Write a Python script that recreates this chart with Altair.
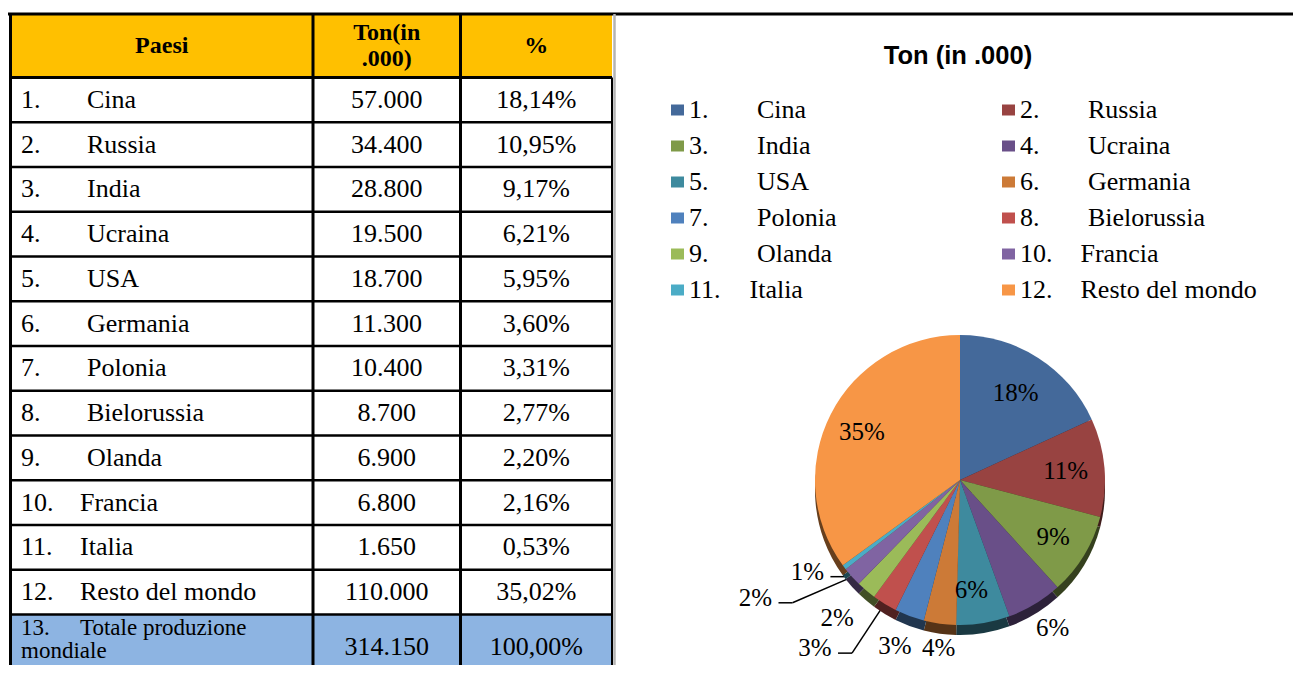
import math
import altair as alt
import pandas as pd

# ---------------- data ----------------
countries = ["Cina", "Russia", "India", "Ucraina", "USA", "Germania", "Polonia",
             "Bielorussia", "Olanda", "Francia", "Italia", "Resto del mondo"]
tons = [57000, 34400, 28800, 19500, 18700, 11300, 10400, 8700, 6900, 6800, 1650, 110000]
shares = [18.14, 10.95, 9.17, 6.21, 5.95, 3.60, 3.31, 2.77, 2.20, 2.16, 0.53, 35.02]
total_name = ["Totale produzione", "mondiale"]
total_tons = 314150
total_share = 100.00
header = ["Paesi", "Ton(in\n.000)", "%"]
title = "Ton (in .000)"
colors = ["#44699A", "#984341", "#7F9A48", "#694F88", "#3E8A9E", "#CC7A37",
          "#4F81BD", "#C0504D", "#9BBB59", "#8064A2", "#4BACC6", "#F79646"]

# ---------------- style / layout (page pixels) ----------------
OFF = 8
W, H = 1285, 657
SERIF = "Liberation Serif"
SANS = "Liberation Sans"
TL, C1, C2, TR = 10.5, 313, 460.5, 612
HT, HB, RH = 14, 77.5, 44.75
PCX, PCY, PR, DEPTH = 960, 480, 145, 10
label_r = [103, 106, 109, 175, 111, 169, 178, 222, 185, 236, 178, 109]
label_da = [0, 0, 0, -0.9, 3.3, -0.7, 1, 9.4, 1.25, 11.9, 6, -1]
leaders = [7, 9, 10]


def p(v):
    return v - OFF


def it_num(v):
    return f"{v:,}".replace(",", ".")


def it_pct(v):
    return f"{v:.2f}".replace(".", ",") + "%"


def shade(hx, f=0.42):
    r, g, b = int(hx[1:3], 16), int(hx[3:5], 16), int(hx[5:7], 16)
    return "#%02x%02x%02x" % (int(r * f), int(g * f), int(b * f))


def XY(xf="x", yf="y"):
    return dict(x=alt.X(f"{xf}:Q", scale=None, axis=None),
                y=alt.Y(f"{yf}:Q", scale=None, axis=None))


# ---------------- table fills ----------------
total_top = HB + RH * 12
fills = pd.DataFrame([
    dict(x=p(TL), x2=p(TR), y=p(HT), y2=p(HB), c="#FFC000"),
    dict(x=p(TL), x2=p(TR), y=p(total_top), y2=p(700), c="#8DB4E2"),
])
fill_layer = alt.Chart(fills).mark_rect().encode(
    **XY(), x2="x2:Q", y2="y2:Q", color=alt.Color("c:N", scale=None))

# ---------------- table lines ----------------
segs = []
segs.append(dict(x=p(OFF), x2=p(1301), y=p(HT), y2=p(HT), w=3, c="#000000"))
segs.append(dict(x=p(TL), x2=p(TR), y=p(HB), y2=p(HB), w=3, c="#000000"))
for k in range(1, 13):
    yy = HB + RH * k
    segs.append(dict(x=p(TL), x2=p(TR), y=p(yy), y2=p(yy), w=2.5, c="#000000"))
for xx in (TL, C1, C2):
    segs.append(dict(x=p(xx), x2=p(xx), y=p(HT), y2=p(700), w=3, c="#000000"))
segs.append(dict(x=p(TR), x2=p(TR), y=p(HB), y2=p(700), w=2, c="#000000"))
segs.append(dict(x=p(TR + 2.5), x2=p(TR + 2.5), y=p(HT), y2=p(700), w=2.5, c="#B4B4B4"))

# ---------------- pie geometry from data ----------------
tot = sum(tons)
mids, cum = [], 0
for v in tons:
    mids.append((cum + v / 2) / tot * 360)
    cum += v


def polar(a_deg, r):
    a = math.radians(a_deg)
    return PCX + r * math.sin(a), PCY - r * math.cos(a)


plabels = []
for i, s in enumerate(shares):
    lx, ly = polar(mids[i] + label_da[i], label_r[i])
    plabels.append(dict(x=p(lx), y=p(ly), t=f"{round(s)}%"))
    if i in leaders:
        sx, sy = polar(mids[i], PR + 1)
        ex, ey = lx + 23, ly + 5
        bx = ex + 14
        segs.append(dict(x=p(sx), x2=p(bx), y=p(sy), y2=p(ey), w=1.5, c="#000000"))
        segs.append(dict(x=p(bx), x2=p(ex), y=p(ey), y2=p(ey), w=1.5, c="#000000"))

rules = pd.DataFrame(segs)
rule_layer = alt.Chart(rules).mark_rule().encode(
    **XY(), x2="x2:Q", y2="y2:Q",
    strokeWidth=alt.StrokeWidth("w:Q", scale=None),
    color=alt.Color("c:N", scale=None))

# ---------------- table texts ----------------
left_rows, center_rows, total_rows = [], [], []
for i, name in enumerate(countries):
    yc = HB + RH * (i + 0.5)
    num = f"{i + 1}."
    left_rows.append(dict(x=p(21), y=p(yc), t=num))
    left_rows.append(dict(x=p(87 if i < 9 else 80), y=p(yc), t=name))
    center_rows.append(dict(x=p((C1 + C2) / 2), y=p(yc), t=it_num(tons[i])))
    center_rows.append(dict(x=p((C2 + TR) / 2), y=p(yc), t=it_pct(shares[i])))
total_rows.append(dict(x=p(21), y=p(total_top + 13), t="13."))
total_rows.append(dict(x=p(80), y=p(total_top + 13), t=total_name[0]))
total_rows.append(dict(x=p(21), y=p(total_top + 36), t=total_name[1]))
center_rows.append(dict(x=p((C1 + C2) / 2), y=p(total_top + 32), t=it_num(total_tons)))
center_rows.append(dict(x=p((C2 + TR) / 2), y=p(total_top + 32), t=it_pct(total_share)))

head_rows = []
col_centers = [(TL + C1) / 2, (C1 + C2) / 2, (C2 + TR) / 2]
hmid = (HT + HB) / 2
for xc, h in zip(col_centers, header):
    lines = h.split("\n")
    n = len(lines)
    for j, ln in enumerate(lines):
        head_rows.append(dict(x=p(xc), y=p(hmid + (j - (n - 1) / 2) * 26), t=ln))

left_text = alt.Chart(pd.DataFrame(left_rows)).mark_text(
    align="left", baseline="middle", font=SERIF, fontSize=26, color="#000000"
).encode(**XY(), text="t:N")
total_text = alt.Chart(pd.DataFrame(total_rows)).mark_text(
    align="left", baseline="middle", font=SERIF, fontSize=23, color="#000000"
).encode(**XY(), text="t:N")
center_text = alt.Chart(pd.DataFrame(center_rows)).mark_text(
    align="center", baseline="middle", font=SERIF, fontSize=26, color="#000000"
).encode(**XY(), text="t:N")
head_text = alt.Chart(pd.DataFrame(head_rows)).mark_text(
    align="center", baseline="middle", font=SERIF, fontSize=24, fontWeight="bold", color="#000000"
).encode(**XY(), text="t:N")

# ---------------- legend ----------------
leg_sq, leg_txt = [], []
for i, name in enumerate(countries):
    col, row = i % 2, i // 2
    yc = 110 + 36 * row
    sx = [671, 1002][col]
    leg_sq.append(dict(x=p(sx), x2=p(sx + 13), y=p(yc - 5.5), y2=p(yc + 5.5), c=colors[i]))
    leg_txt.append(dict(x=p([689, 1020][col]), y=p(yc), t=f"{i + 1}."))
    leg_txt.append(dict(x=p([757, 1088][col] - (7.5 if i >= 9 else 0)), y=p(yc), t=name))
leg_sq_layer = alt.Chart(pd.DataFrame(leg_sq)).mark_rect().encode(
    **XY(), x2="x2:Q", y2="y2:Q", color=alt.Color("c:N", scale=None))
leg_txt_layer = alt.Chart(pd.DataFrame(leg_txt)).mark_text(
    align="left", baseline="middle", font=SERIF, fontSize=26, color="#000000"
).encode(**XY(), text="t:N")

title_layer = alt.Chart(pd.DataFrame([dict(x=p(958), y=p(56), t=title)])).mark_text(
    align="center", baseline="middle", font=SANS, fontSize=25.5, fontWeight="bold", color="#000000"
).encode(**XY(), text="t:N")

# ---------------- pie ----------------
pie_df = pd.DataFrame({
    "country": countries,
    "value": tons,
    "order": list(range(len(countries))),
    "c": colors,
    "s": [shade(c) for c in colors],
})
pie_shadow = alt.Chart(pie_df).mark_arc(radius=PR).encode(
    theta=alt.Theta("value:Q", stack=True),
    order=alt.Order("order:Q"),
    color=alt.Color("s:N", scale=None),
    x=alt.value(p(PCX)), y=alt.value(p(PCY + DEPTH)))
pie_main = alt.Chart(pie_df).mark_arc(radius=PR).encode(
    theta=alt.Theta("value:Q", stack=True),
    order=alt.Order("order:Q"),
    color=alt.Color("c:N", scale=None),
    x=alt.value(p(PCX)), y=alt.value(p(PCY)))
pie_text = alt.Chart(pd.DataFrame(plabels)).mark_text(
    align="center", baseline="middle", font=SERIF, fontSize=25, color="#000000"
).encode(**XY(), text="t:N")

chart = alt.layer(
    fill_layer, left_text, total_text, center_text, head_text, rule_layer,
    title_layer, leg_sq_layer, leg_txt_layer,
    pie_shadow, pie_main, pie_text,
).properties(
    width=W, height=H, padding=0,
    autosize=alt.AutoSizeParams(type="none"),
    background="#ffffff",
).configure_view(stroke=None)

chart.save("out.html", embed_options={"renderer": "svg", "actions": False})
